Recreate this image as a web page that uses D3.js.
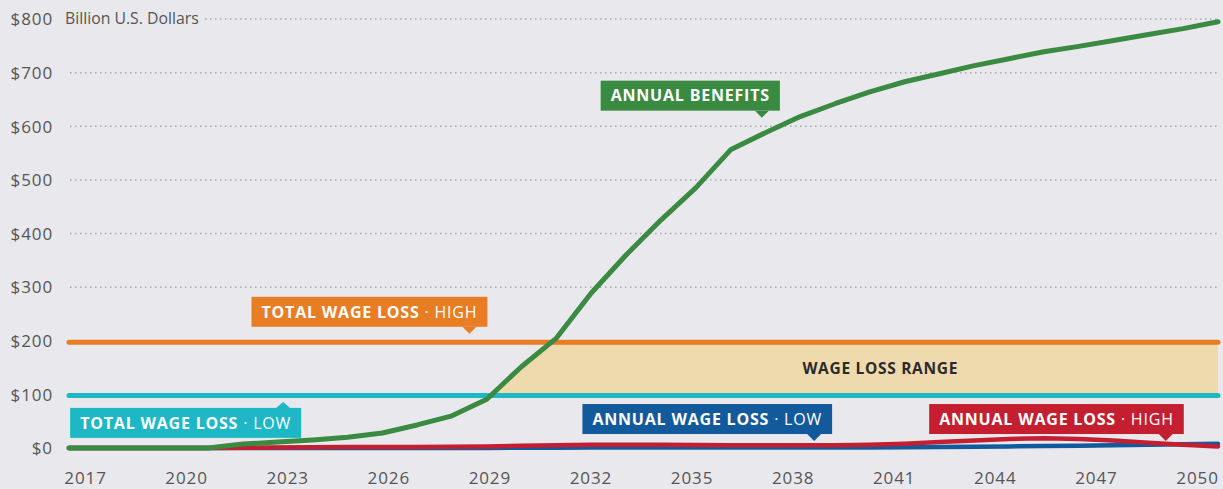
<!DOCTYPE html>
<html>
<head>
<meta charset="utf-8">
<script src="https://cdn.jsdelivr.net/npm/d3@7"></script>
<style>
  body { margin: 0; background: #e9e8ed; }
  svg { display: block; font-family: "Open Sans", sans-serif; }
</style>
</head>
<body>
<svg id="chart" width="1223" height="489"></svg>
<script>
// data (billions of U.S. dollars)
var years = d3.range(2017, 2051);
var annualBenefits = [0, 0, 0, 0, 0, 7.5, 11, 15, 20, 28, 43, 60, 91, 152, 205, 289, 360, 425, 485, 556,
  588, 618, 642, 664, 683, 698, 713, 726, 739, 749, 760, 771, 782, 795];
var annualLossHigh = [0, 0, 0, 0, 0, 0.5, 1, 1.5, 2, 2, 2, 2.5, 3, 4, 5, 6, 6, 6, 5.5, 5,
  5, 5, 5, 6, 8, 11, 14, 17, 18, 17, 14, 10, 6, 3];
var annualLossLow = [0, 0, 0, 0, 0, 0, 0, 0, 0, 0, 0, 0, 0, 0.5, 0.5, 1, 1, 1, 1, 1,
  1, 1, 1, 1, 1.5, 2, 2.5, 3, 3.5, 4, 5, 6, 7, 8];
var totalLossLow = 98;
var totalLossHigh = 197;
var yTicks = [0, 100, 200, 300, 400, 500, 600, 700, 800];
var xTicks = [2017, 2020, 2023, 2026, 2029, 2032, 2035, 2038, 2041, 2044, 2047, 2050];

// callout labels: text and the point their pointer touches
var callouts = [
  { main: "ANNUAL BENEFITS", sub: "", color: "#3a8a41", year: 2036.9, value: 616, dir: "down" },
  { main: "TOTAL WAGE LOSS", sub: "HIGH", color: "#e87d24", year: 2028.5, value: 213, dir: "down" },
  { main: "TOTAL WAGE LOSS", sub: "LOW", color: "#1db7c6", year: 2023.15, value: 86, dir: "up" },
  { main: "ANNUAL WAGE LOSS", sub: "LOW", color: "#135a9c", year: 2038.4, value: 13, dir: "down" },
  { main: "ANNUAL WAGE LOSS", sub: "HIGH", color: "#c41f30", year: 2048.5, value: 13, dir: "down" }
];

var svg = d3.select("#chart");

var x = d3.scaleLinear().domain([2017, 2050]).range([69, 1218]);
var xLabel = d3.scaleLinear().domain([2017, 2050]).range([85, 1197]);
var y = d3.scaleLinear().domain([0, 800]).range([448, 19]);

// gridlines
svg.append("g").selectAll("line").data(yTicks.filter(function (d) { return d > 0; }))
  .enter().append("line")
  .attr("x1", function (d) { return d == 800 ? 205 : 70; })
  .attr("x2", 1220)
  .attr("y1", function (d) { return y(d); })
  .attr("y2", function (d) { return y(d); })
  .attr("stroke", "#a8a8b0")
  .attr("stroke-width", 1.5)
  .attr("stroke-dasharray", "1.5,3.5");

// y axis labels
var yAxis = svg.append("g").attr("transform", "translate(53,0)")
  .call(d3.axisLeft(y).tickValues(yTicks).tickSize(0).tickPadding(0)
    .tickFormat(function (d) { return "$" + d; }));
yAxis.select(".domain").remove();
yAxis.selectAll("text").attr("font-family", "Open Sans").attr("font-size", 17)
  .attr("letter-spacing", 0.9).attr("fill", "#555").attr("dy", "0.34em");

svg.append("text").attr("x", 65).attr("y", y(800)).attr("dy", "0.34em")
  .attr("font-size", 15.8).attr("fill", "#555").text("Billion U.S. Dollars");

// x axis labels
var xAxis = svg.append("g").attr("transform", "translate(0,472)")
  .call(d3.axisBottom(xLabel).tickValues(xTicks).tickSize(0).tickPadding(0)
    .tickFormat(d3.format("d")));
xAxis.select(".domain").remove();
xAxis.selectAll("text").attr("font-family", "Open Sans").attr("font-size", 17)
  .attr("letter-spacing", 0.9).attr("fill", "#555");

// wage loss range band, to the right of the benefits line
var band = years.map(function (yr, i) {
  return { year: yr, lo: totalLossLow, hi: Math.max(totalLossLow, Math.min(totalLossHigh, annualBenefits[i])) };
});
svg.append("path").datum(band)
  .attr("fill", "#efdaad")
  .attr("d", d3.area().x(function (d) { return x(d.year); })
    .y0(function (d) { return y(d.lo); })
    .y1(function (d) { return y(d.hi); }));

svg.append("text")
  .attr("x", x(2040.3)).attr("y", y((totalLossLow + totalLossHigh) / 2)).attr("dy", "0.35em")
  .attr("text-anchor", "middle").attr("font-size", 15.5).attr("font-weight", 700)
  .attr("letter-spacing", 0.7).attr("fill", "#2a2a2a").text("WAGE LOSS RANGE");

// total wage loss lines
[[totalLossLow, "#1db7c6"], [totalLossHigh, "#e87d24"]].forEach(function (t) {
  svg.append("line")
    .attr("x1", x(2017)).attr("x2", x(2050))
    .attr("y1", y(t[0])).attr("y2", y(t[0]))
    .attr("stroke", t[1]).attr("stroke-width", 5).attr("stroke-linecap", "round");
});

var line = d3.line()
  .x(function (d, i) { return x(years[i]); })
  .y(function (d) { return y(d); });

function drawSeries(values, color, w) {
  svg.append("path").datum(values)
    .attr("fill", "none").attr("stroke", color).attr("stroke-width", w)
    .attr("stroke-linecap", "round").attr("stroke-linejoin", "round")
    .attr("d", line);
}
drawSeries(annualLossLow, "#135a9c", 4.5);
drawSeries(annualLossHigh, "#c41f30", 4.5);
drawSeries(annualBenefits, "#3a8a41", 5);

// callout boxes
callouts.forEach(function (c) {
  var tipX = x(c.year), tipY = y(c.value);
  var g = svg.append("g");
  var rect = g.append("rect").attr("fill", c.color);
  var txt = g.append("text").attr("font-size", 16).attr("fill", "#fff")
    .attr("letter-spacing", 0.8);
  txt.append("tspan").attr("font-weight", 700).text(c.main);
  if (c.sub) txt.append("tspan").attr("font-weight", 400).text(" \u00b7 " + c.sub);
  var w = txt.node().getComputedTextLength() + 20;
  var right = tipX + 18, left = right - w;
  var top = c.dir == "down" ? tipY - 7 - 30 : tipY + 6;
  rect.attr("x", left).attr("y", top).attr("width", w).attr("height", 30);
  txt.attr("x", left + 10).attr("y", top + 15).attr("dy", "0.36em");
  var pts = c.dir == "down"
    ? [[tipX - 7, top + 30], [tipX + 7, top + 30], [tipX, tipY]]
    : [[tipX - 7, top], [tipX + 7, top], [tipX, tipY]];
  g.append("polygon").attr("fill", c.color).attr("points", pts.join(" "));
});
</script>
</body>
</html>
